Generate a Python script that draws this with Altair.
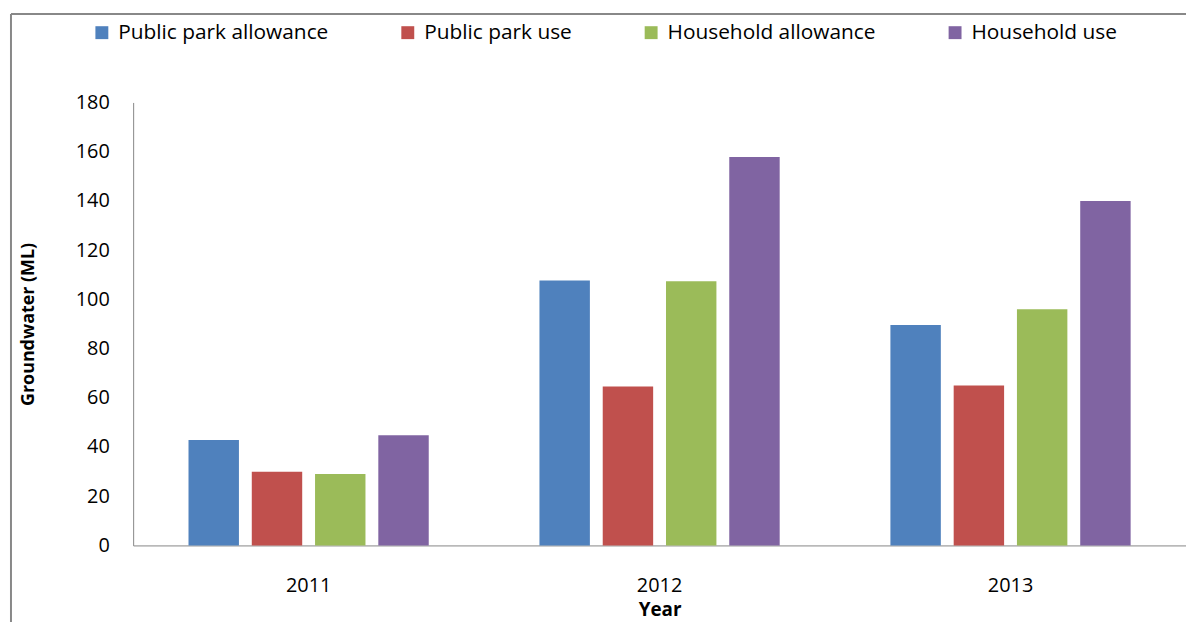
import altair as alt
import pandas as pd

years = ["2011", "2012", "2013"]
series = ["Public park allowance", "Public park use", "Household allowance", "Household use"]
colors = ["#4F81BD", "#C0504D", "#9BBB59", "#8064A2"]
park_allow = [42.8, 107.7, 89.6]
park_use = [29.9, 64.6, 65.0]
house_allow = [29.0, 107.3, 96.0]
house_use = [44.8, 157.8, 140.0]

rows = []
for s, vals in zip(series, [park_allow, park_use, house_allow, house_use]):
    for y, v in zip(years, vals):
        rows.append({"Year": y, "Series": s, "Value": v})
df = pd.DataFrame(rows)

FONT = "Open Sans"

bars = alt.Chart(df).mark_bar().encode(
    x=alt.X("Year:N", sort=years,
            scale=alt.Scale(paddingInner=0, paddingOuter=0),
            axis=alt.Axis(title="Year", labelAngle=0, ticks=False, labelPadding=30,
                          titlePadding=6, labelFontSize=20, titleFontSize=19,
                          titleFontWeight="bold", domainColor="#868686", labelColor="#000",
                          titleColor="#000")),
    xOffset=alt.XOffset("Series:N", sort=series,
                        scale=alt.Scale(paddingInner=0.203, paddingOuter=0.875)),
    y=alt.Y("Value:Q", scale=alt.Scale(domain=[0, 180], nice=False),
            axis=alt.Axis(title="Groundwater (ML)", values=list(range(0, 181, 20)),
                          ticks=False, grid=False, labelPadding=24, labelFontSize=20,
                          titleFontSize=18, titleFontWeight="bold", titlePadding=38,
                          domainColor="#868686", labelColor="#000", titleColor="#000")),
    color=alt.Color("Series:N", sort=series,
                    scale=alt.Scale(domain=series, range=colors),
                    legend=alt.Legend(title=None, orient="none", direction="horizontal",
                                      legendX=-42, legendY=-81, symbolType="square",
                                      symbolSize=169, symbolStrokeWidth=0,
                                      labelFontSize=21, columnPadding=69, labelLimit=0,
                                      labelOffset=6,
                                      labelColor="#000", symbolOpacity=1)),
)

frame_df = pd.DataFrame({"k": [0]})
left_line = alt.Chart(frame_df).mark_rule(color="#888888", strokeWidth=2).encode(
    x=alt.value(-123), y=alt.value(-89), y2=alt.value(530))
top_line = alt.Chart(frame_df).mark_rule(color="#888888", strokeWidth=2).encode(
    x=alt.value(-123), x2=alt.value(1070), y=alt.value(-89))

chart = alt.layer(bars, left_line, top_line).properties(
    width=1060, height=446,
    autosize=alt.AutoSizeParams(type="none"),
    padding={"left": 126, "top": 93, "right": 0, "bottom": 75},
).configure(font=FONT).configure_view(stroke=None)

chart.save("out.html", embed_options={"renderer": "svg", "actions": False})
